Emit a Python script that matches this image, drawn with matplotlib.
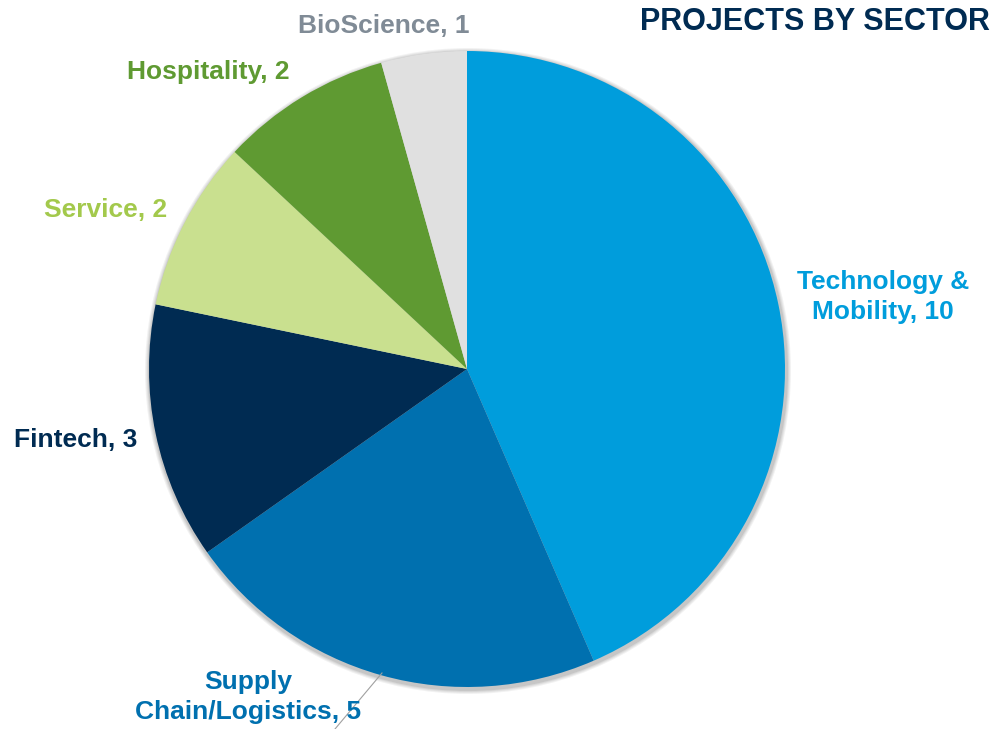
import matplotlib.pyplot as plt
from matplotlib.patches import Circle

plt.rcParams['font.family'] = ['Liberation Sans', 'DejaVu Sans']

sectors = ['Technology &\nMobility', 'Supply\nChain/Logistics', 'Fintech',
           'Service', 'Hospitality', 'BioScience']
projects = [10, 5, 3, 2, 2, 1]
slice_colors = ['#009DDC', '#0070AF', '#002B52', '#C9E08F', '#5F9A32', '#E0E0E0']
label_colors = ['#009DDC', '#0070AF', '#002B52', '#A3C94C', '#5F9A32', '#808B96']

W, H = 996, 729
fig = plt.figure(figsize=(W / 100, H / 100), dpi=100)
ax = fig.add_axes([0, 0, 1, 1])

cx, cy, r = 467, H - 369, 318

# soft shadow round the pie
for i, a in enumerate([0.05, 0.05, 0.06, 0.08]):
    ax.add_patch(Circle((cx + 1, cy - 2), r + 5 - i, color='#000000', alpha=a, lw=0, zorder=0))

wedges, _ = ax.pie(projects, colors=slice_colors, startangle=90, counterclock=False,
                   center=(cx, cy), radius=r, frame=True,
                   wedgeprops=dict(linewidth=0))
ax.set_xlim(0, W)
ax.set_ylim(0, H)
ax.set_aspect('equal')
ax.axis('off')

# label positions in pixel coords (x, y from top), alignment
label_pos = [(883, 297, 'center'), (248, 697, 'center'), (14, 440, 'left'),
             (106, 210, 'center'), (208, 72, 'center'), (384, 26, 'center')]
for name, val, col, (x, y, ha) in zip(sectors, projects, label_colors, label_pos):
    ax.text(x, H - y, f'{name}, {val}', color=col, fontsize=19, fontweight='bold',
            ha=ha, va='center', linespacing=1.3)

# leader line for the supply chain label
ax.plot([382, 335], [H - 673, H - 729], color='#A0A0A0', lw=0.8)

ax.text(990, H - 22, 'PROJECTS BY SECTOR', color='#002B52', fontsize=22,
        fontweight='bold', ha='right', va='center')

plt.savefig('out.png', dpi=100)
